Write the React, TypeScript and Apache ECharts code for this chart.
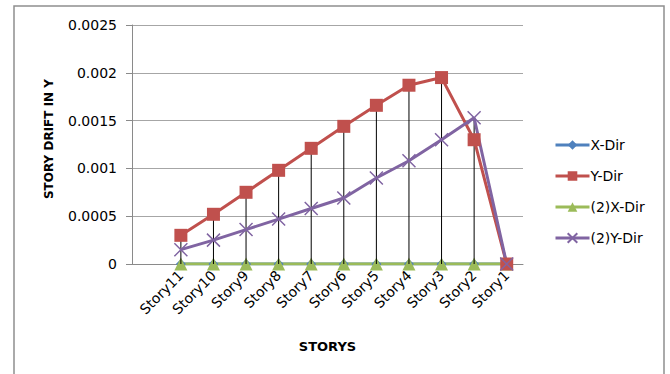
import React, { useEffect, useRef } from "react";
import * as echarts from "echarts";

// Story labels, the first slot is an empty category
const categories = ["", "Story11", "Story10", "Story9", "Story8", "Story7", "Story6", "Story5", "Story4", "Story3", "Story2", "Story1"];
const xDir = [null, 0, 0, 0, 0, 0, 0, 0, 0, 0, 0, 0];
const yDir = [null, 0.0003, 0.00052, 0.00075, 0.00098, 0.00121, 0.00144, 0.00166, 0.00187, 0.00195, 0.0013, 0];
const x2Dir = [null, 0, 0, 0, 0, 0, 0, 0, 0, 0, 0, 0];
const y2Dir = [null, 0.00015, 0.00025, 0.00036, 0.00047, 0.00058, 0.00069, 0.0009, 0.00108, 0.0013, 0.00153, 0];
const yTicks = { min: 0, max: 0.0025, interval: 0.0005 };

const FONT = "DejaVu Sans";

export default function App() {
  const ref = useRef<HTMLDivElement>(null);

  useEffect(() => {
    if (!ref.current) return;
    const chart = echarts.init(ref.current, undefined, { renderer: "svg" });

    // drop lines from the highest point of each story down to zero
    const dropLines = categories.map((_, i) => {
      const vals = [xDir[i], yDir[i], x2Dir[i], y2Dir[i]].filter((v) => v !== null) as number[];
      return vals.length ? Math.max(...vals) : null;
    });

    const lineSeries = (name: string, data: (number | null)[], color: string, symbol: string, symbolSize: number, z: number, extra: any = {}) => ({
      name,
      type: "line",
      data,
      z,
      symbol,
      symbolSize,
      showSymbol: true,
      lineStyle: { color, width: 3 },
      itemStyle: { color, ...extra },
      emphasis: { disabled: true },
    });

    chart.setOption({
      animation: false,
      backgroundColor: "#ffffff",
      textStyle: { fontFamily: FONT },
      graphic: [
        {
          type: "rect",
          shape: { x: 14, y: 6, width: 650, height: 390 },
          style: { fill: "none", stroke: "#8f8f8f", lineWidth: 1.5 },
          silent: true,
        },
        {
          type: "text",
          x: 49,
          y: 139,
          rotation: Math.PI / 2,
          style: {
            text: "STORY DRIFT IN Y",
            fontFamily: FONT,
            fontSize: 12,
            fontWeight: "bold",
            fill: "#000",
            align: "center",
            verticalAlign: "middle",
          },
          silent: true,
        },
      ],
      grid: { left: 132, right: 147, top: 25, bottom: 110 },
      legend: {
        orient: "vertical",
        left: 549,
        top: 133,
        itemWidth: 34,
        itemHeight: 12,
        itemGap: 17,
        data: ["X-Dir", "Y-Dir", "(2)X-Dir", "(2)Y-Dir"],
        lineStyle: { width: 3 },
        textStyle: { fontFamily: FONT, fontSize: 14, color: "#000", padding: [0, 0, 0, -4] },
      },
      xAxis: {
        type: "category",
        data: categories,
        boundaryGap: true,
        name: "STORYS",
        nameLocation: "middle",
        nameGap: 76,
        nameTextStyle: { fontFamily: FONT, fontSize: 13, fontWeight: "bold", color: "#000" },
        axisLine: { lineStyle: { color: "#8a8a8a", width: 1 } },
        axisTick: { show: false },
        axisLabel: { interval: 0, rotate: 45, margin: 9, fontFamily: FONT, fontSize: 14, color: "#000" },
        splitLine: { show: false },
      },
      yAxis: {
        type: "value",
        min: yTicks.min,
        max: yTicks.max,
        interval: yTicks.interval,
        axisLine: { show: true, lineStyle: { color: "#8a8a8a", width: 1 } },
        axisTick: { show: true, length: 6, lineStyle: { color: "#8a8a8a" } },
        axisLabel: { margin: 15, fontFamily: FONT, fontSize: 14, color: "#000" },
        splitLine: { lineStyle: { color: "#a6a6a6", width: 1 } },
      },
      series: [
        lineSeries("X-Dir", xDir, "#4F81BD", "diamond", 10, 1),
        lineSeries("(2)X-Dir", x2Dir, "#9BBB59", "triangle", 13, 1),
        {
          name: "drop",
          type: "bar",
          data: dropLines,
          barWidth: 1,
          z: 2,
          itemStyle: { color: "#000" },
          silent: true,
        },
        lineSeries("Y-Dir", yDir, "#C0504D", "rect", 13, 3),
        lineSeries("(2)Y-Dir", y2Dir, "#8064A2", "path://M0,0L10,10M10,0L0,10", 13, 3, {
          borderColor: "#8064A2",
          borderWidth: 1.5,
        }),
      ],
    });

    return () => chart.dispose();
  }, []);

  return <div ref={ref} style={{ position: "absolute", left: 0, top: 0, width: 670, height: 374 }} />;
}
